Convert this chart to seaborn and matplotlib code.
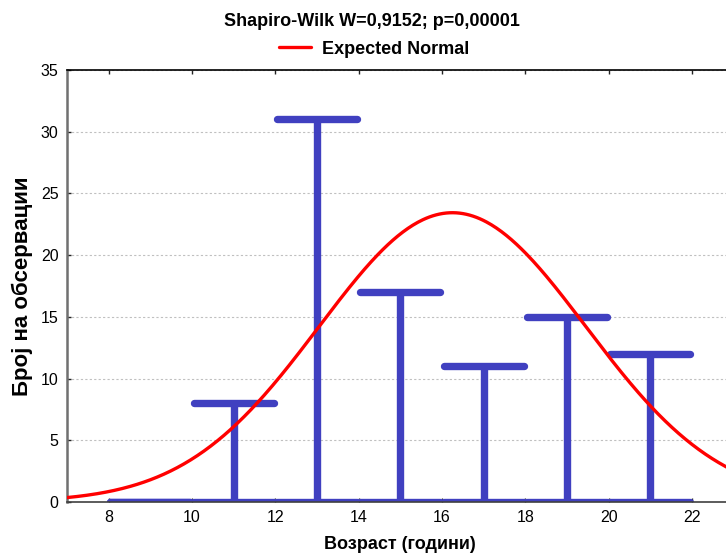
import numpy as np
import pandas as pd
import matplotlib
matplotlib.use("Agg")
import matplotlib.pyplot as plt
import seaborn as sns

# Age groups (bin midpoints) and number of observations in each bin
age_mid = [9, 11, 13, 15, 17, 19, 21]
counts = [0, 8, 31, 17, 11, 15, 12]
bin_width = 2

# Fitted normal distribution parameters
fit_mean = 16.25
fit_sd = 3.2

x_ticks = [8, 10, 12, 14, 16, 18, 20, 22]
y_ticks = [0, 5, 10, 15, 20, 25, 30, 35]

title = "Shapiro-Wilk W=0,9152; p=0,00001"
curve_label = "Expected Normal"
x_label = "Возраст (години)"
y_label = "Број на обсервации"

sns.set_theme(style="white")
plt.rcParams["font.family"] = ["Liberation Sans", "DejaVu Sans"]
plt.rcParams["text.color"] = "black"
plt.rcParams["axes.labelcolor"] = "black"

bar_color = "#4040c0"
curve_color = "#ff0000"

fig = plt.figure(figsize=(7.26, 5.58), dpi=100)
W, H = 726, 558
ax = fig.add_axes([67 / W, 56 / H, (733.7 - 67) / W, 432 / H])

# Expected normal frequency curve scaled to the histogram
n_total = sum(counts)
xs = np.linspace(7, 23, 400)
expected = n_total * bin_width * np.exp(-0.5 * ((xs - fit_mean) / fit_sd) ** 2) / (fit_sd * np.sqrt(2 * np.pi))
curve_df = pd.DataFrame({"age": xs, "expected": expected})

mids = np.array(age_mid, dtype=float)
cnts = np.array(counts, dtype=float)

# baseline segments of each bin
base = ax.hlines(np.zeros_like(cnts), mids - bin_width / 2 + 0.04, mids + bin_width / 2 - 0.04,
                 color=bar_color, lw=5.3, zorder=3)
base.set_capstyle("round")
# stems
stems = ax.vlines(mids, 0, cnts, color=bar_color, lw=5.3, zorder=3)
stems.set_capstyle("butt")
# caps at the bin counts
caps = ax.hlines(cnts, mids - bin_width / 2 + 0.04, mids + bin_width / 2 - 0.04,
                 color=bar_color, lw=5.3, zorder=3)
caps.set_capstyle("round")

sns.lineplot(data=curve_df, x="age", y="expected", color=curve_color, lw=2.4,
             ax=ax, zorder=4, label=curve_label, legend=False)

ax.set_xlim(7, 23)
ax.set_ylim(0, 35)
ax.set_xticks(x_ticks)
ax.set_yticks(y_ticks)
ax.set_xticklabels([str(t) for t in x_ticks], fontsize=11.5)
ax.set_yticklabels([str(t) for t in y_ticks], fontsize=11.5)

ax.yaxis.grid(True, linestyle=(0, (2, 2)), color="#c0c0c0", lw=0.8, zorder=0)
ax.set_axisbelow(True)

ax.tick_params(axis="both", direction="in", length=3, width=1, color="#222222",
               labelcolor="black", pad=6)
ax.tick_params(axis="x", bottom=True, top=True)
ax.tick_params(axis="y", left=True, right=False)

for side in ["top", "left", "bottom", "right"]:
    ax.spines[side].set_visible(True)
ax.spines["top"].set_color("black")
ax.spines["top"].set_linewidth(1.2)
ax.spines["left"].set_color("#707070")
ax.spines["left"].set_linewidth(1.8)
ax.spines["bottom"].set_color("#404040")
ax.spines["bottom"].set_linewidth(1.2)
ax.spines["bottom"].set_zorder(6)
ax.spines["right"].set_color("black")

ax.set_xlabel(x_label, fontsize=13, fontweight="bold", labelpad=8, color="black")
ax.set_ylabel(y_label, fontsize=16, fontweight="bold", color="black")
ax.yaxis.set_label_coords(-0.051, 0.5)

fig.text(372 / W, 1 - 22 / H, title, ha="center", va="center",
         fontsize=13, fontweight="bold", color="black")

handles, labels = ax.get_legend_handles_labels()
fig.legend(handles, labels, loc="center", bbox_to_anchor=(374 / W, 1 - 49 / H),
           frameon=False, prop={"weight": "bold", "size": 13},
           handlelength=1.8, handletextpad=0.6, borderpad=0, borderaxespad=0,
           labelcolor="black")

fig.savefig("out.png", dpi=100)
